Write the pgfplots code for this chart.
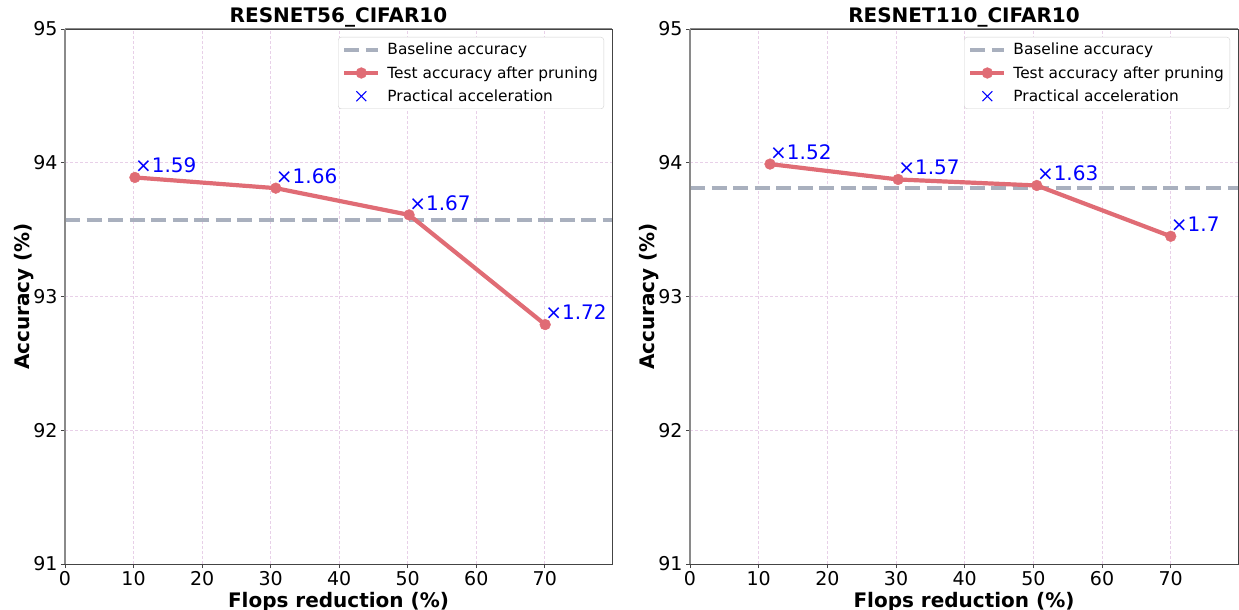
\documentclass[border=0pt]{standalone}
\usepackage{fontspec}
\setmainfont{DejaVu Sans}
\usepackage{pgfplots}
\pgfplotsset{compat=1.18}
\usepackage{pgfplotstable}

\definecolor{prune}{HTML}{E06C75}
\definecolor{basec}{HTML}{A9B0BE}
\definecolor{gridc}{HTML}{E8D0E8}
\definecolor{spine}{HTML}{444444}
\definecolor{lspine}{HTML}{8A8A8A}

% Test accuracy after pruning, with the measured speed-up as label
\pgfplotstableread{
x     y      lab
10.2  93.89  ×1.59
30.75 93.81  ×1.66
50.2  93.61  ×1.67
70.05 92.79  ×1.72
}\resnetA
\pgfplotstableread{
x     y      lab
11.65 93.99  ×1.52
30.3  93.875 ×1.57
50.5  93.83  ×1.63
70.0  93.45  ×1.7
}\resnetB

\pgfplotsset{
  panel/.style={
    width=547pt, height=535pt, scale only axis,
    xmin=0, xmax=79.8, ymin=91, ymax=95,
    xtick={0,10,...,70}, ytick={91,92,...,95},
    tick align=outside, tick pos=left,
    major tick length=4pt,
    tick style={spine, line width=0.8pt},
    axis line style={spine, line width=0.9pt},
    grid=major,
    major grid style={gridc, line width=0.7pt, dash pattern=on 3pt off 2pt},
    ticklabel style={font=\fontsize{19}{22}\selectfont},
    /pgf/number format/assume math mode=true,
    xlabel={Flops reduction (\%)},
    ylabel={Accuracy (\%)},
    label style={font=\fontsize{20}{24}\selectfont\bfseries},
    xlabel style={at={(axis description cs:0.5,-0.0804)}, anchor=base},
    ylabel style={at={(axis description cs:-0.065,0.5)}, anchor=base, rotate=0},
    title style={at={(axis description cs:0.5,1)}, anchor=base, yshift=0pt,
                 font=\fontsize{20}{24}\selectfont\bfseries},
    legend style={at={(axis description cs:1,1)}, anchor=north east,
                  xshift=-8pt, yshift=-8pt, draw=black!18, rounded corners=3pt,
                  fill=white, font=\fontsize{15.4}{18}\selectfont,
                  inner xsep=4pt, inner ysep=4pt, row sep=6pt,
                  /tikz/every odd column/.append style={column sep=5pt}},
    legend cell align=left,
    legend image code/.code={
      \draw[mark repeat=2, mark phase=2, ##1]
        plot coordinates {(0pt,0pt) (17pt,0pt) (34pt,0pt)};
    },
    after end axis/.code={
      \draw[lspine, line width=1.6pt] (rel axis cs:0,0) -- (rel axis cs:0,1);
      \draw[lspine, line width=1pt] (rel axis cs:0,1) -- (rel axis cs:1,1);
    },
  },
  baseline/.style={basec, line width=4.2pt, dash pattern=on 15pt off 6.5pt},
  pruned/.style={prune, line width=4.2pt, mark=*, mark size=5.4pt,
    mark options={solid, line width=0.4pt},
    nodes near coords, point meta=explicit symbolic,
    nodes near coords style={font=\fontsize{20}{22}\selectfont, text=blue,
      anchor=base west, inner sep=0pt, yshift=4.6pt}},
  % marker-only legend entry: the sample line is drawn in the legend's fill colour
  accel/.style={white, mark=x, mark size=7pt,
    mark options={draw=blue, solid, line width=1.1pt}},
}

\begin{document}
\begin{tikzpicture}
\useasboundingbox (-65pt,-46pt) rectangle (1174pt,564pt);

\begin{axis}[panel, title={RESNET56\_CIFAR10}, at={(0pt,0pt)}]
  \addplot[baseline] coordinates {(0,93.57) (79.8,93.57)};
  \addlegendentry{Baseline accuracy}
  \addplot[pruned] table[x=x, y=y, meta=lab] {\resnetA};
  \addlegendentry{Test accuracy after pruning}
  \addlegendimage{accel}
  \addlegendentry{Practical acceleration}
\end{axis}

\begin{axis}[panel, title={RESNET110\_CIFAR10}, at={(625pt,0pt)}, width=548pt]
  \addplot[baseline] coordinates {(0,93.81) (79.8,93.81)};
  \addlegendentry{Baseline accuracy}
  \addplot[pruned] table[x=x, y=y, meta=lab] {\resnetB};
  \addlegendentry{Test accuracy after pruning}
  \addlegendimage{accel}
  \addlegendentry{Practical acceleration}
\end{axis}
\end{tikzpicture}
\end{document}
